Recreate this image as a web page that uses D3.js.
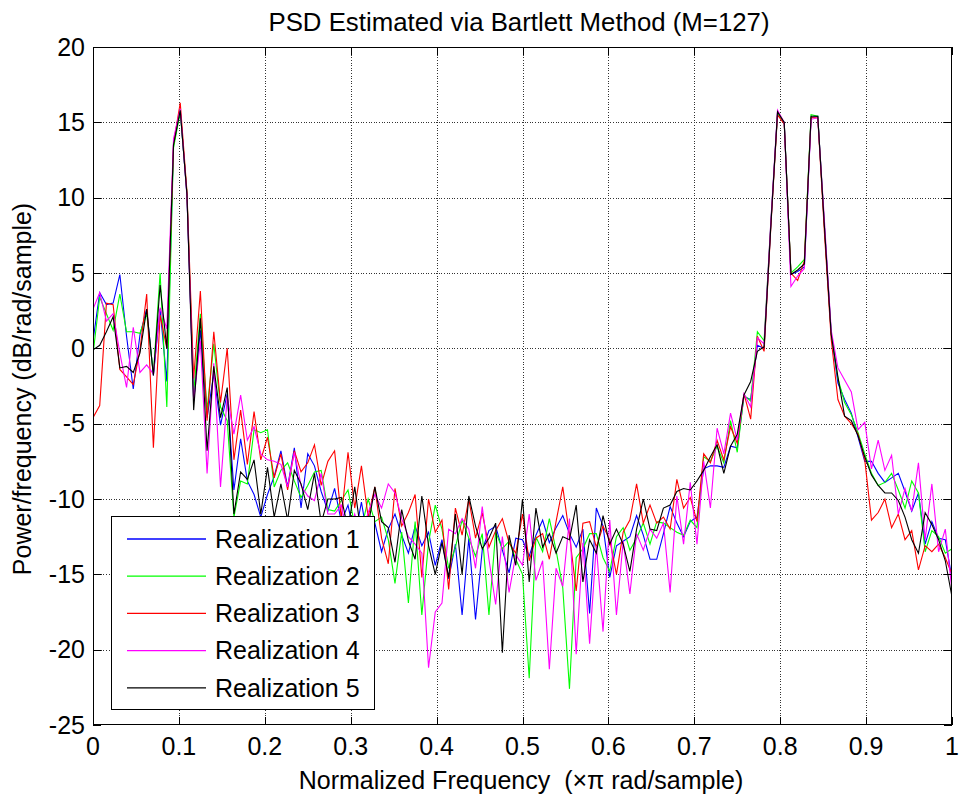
<!DOCTYPE html>
<html><head><meta charset="utf-8">
<script src="https://cdn.jsdelivr.net/npm/d3@7"></script>
<style>
body{margin:0;background:#fff;}
svg text{font-family:"Liberation Sans",Arial,Helvetica,sans-serif;fill:#000;}
</style>
</head><body>
<svg id="chart" width="962" height="803"></svg>
<script>
// ---------- data ----------
const titleText = "PSD Estimated via Bartlett Method (M=127)";
const xLabelText = "Normalized Frequency  (\u00D7\u03C0 rad/sample)";
const yLabelText = "Power/frequency (dB/rad/sample)";
const xTicks = [0,0.1,0.2,0.3,0.4,0.5,0.6,0.7,0.8,0.9,1];
const xTickLabels = ["0","0.1","0.2","0.3","0.4","0.5","0.6","0.7","0.8","0.9","1"];
const yTicks = [-25,-20,-15,-10,-5,0,5,10,15,20];
const yTickLabels = ["-25","-20","-15","-10","-5","0","5","10","15","20"];
const seriesNames = ["Realization 1","Realization 2","Realization 3","Realization 4","Realization 5"];
const seriesColors = ["#0000ff","#00ff00","#ff0000","#ff00ff","#000000"];
const nfftHalf = 128; // frequency grid k/128, k = 0..128

const r1 = [0.5,3.7,2.9,3.0,4.9,0.8,-2.7,0.9,2.6,-1.8,
2.6,-2.2,13.5,15.8,10.2,-3.5,1.2,-4.6,-1.7,-5.1,
-3.0,-9.4,-6.0,-8.8,-9.7,-11.2,-9.7,-8.5,-6.8,-9.2,
-6.6,-10.6,-7.0,-7.8,-9.5,-10.8,-9.3,-11.5,-10.4,-12.6,
-10.2,-12.9,-11.6,-13.5,-12.0,-11.0,-12.4,-13.6,-11.8,-13.1,
-12.2,-14.4,-12.7,-15.3,-13.0,-17.7,-12.6,-18.0,-13.4,-12.1,
-11.8,-13.4,-14.9,-12.6,-12.7,-13.8,-12.4,-11.4,-12.9,-11.9,
-11.1,-12.3,-13.2,-12.0,-17.6,-10.6,-11.8,-15.2,-13.1,-12.8,
-12.5,-11.1,-12.4,-14.0,-14.0,-12.3,-10.5,-11.6,-12.5,-11.5,
-11.2,-8.0,-7.8,-7.8,-7.9,-6.5,-6.6,-3.2,-3.4,0.2,
0.0,8.2,15.6,15.0,4.9,5.1,5.4,15.3,15.4,8.0,
1.0,-2.3,-3.4,-4.3,-5.9,-7.5,-7.5,-8.3,-8.9,-8.6,
-8.3,-9.5,-10.8,-9.6,-13.0,-11.5,-12.6,-12.7,-15.3];

const r2 = [-0.4,3.4,2.3,1.2,3.6,1.1,1.1,1.0,2.3,-1.7,
5.0,-3.9,13.3,15.7,10.3,-3.0,2.3,-4.1,0.3,-3.9,
-4.8,-11.2,-8.8,-9.0,-5.4,-5.6,-5.4,-9.2,-8.1,-7.6,
-8.8,-9.9,-9.1,-8.2,-8.1,-10.7,-10.8,-10.1,-9.4,-11.8,
-12.0,-10.0,-11.5,-11.2,-12.7,-15.6,-12.2,-16.9,-11.5,-17.7,
-12.9,-10.4,-12.0,-14.6,-13.2,-11.4,-12.6,-13.8,-12.3,-17.7,
-12.2,-13.3,-12.8,-14.0,-15.0,-21.9,-12.5,-13.5,-11.3,-13.4,
-15.9,-22.6,-13.9,-13.3,-12.3,-12.3,-13.9,-14.8,-12.5,-11.9,
-13.4,-12.6,-11.6,-13.0,-11.5,-11.6,-11.9,-12.2,-12.4,-11.4,
-11.9,-7.2,-7.5,-6.5,-7.6,-4.8,-6.9,-3.1,-3.5,1.1,
0.5,8.3,15.6,15.0,5.0,5.4,5.9,15.5,15.4,8.1,
1.0,-2.0,-3.6,-4.4,-5.6,-7.0,-8.3,-9.1,-8.9,-8.3,
-9.4,-10.6,-8.8,-9.6,-13.5,-12.1,-12.5,-13.6,-13.3];

const r3 = [-4.6,-3.8,3.0,2.9,-1.4,-1.9,-2.4,-0.1,3.6,-6.6,
2.2,0.0,13.6,16.3,10.4,-2.0,3.8,-4.8,1.1,-3.6,
0.0,-7.4,-4.1,-7.7,-4.2,-7.4,-5.9,-8.6,-7.0,-9.4,
-6.8,-8.2,-7.6,-6.4,-9.1,-7.5,-6.8,-11.3,-6.9,-10.6,
-7.8,-11.2,-9.2,-12.6,-14.3,-9.3,-11.8,-10.9,-9.7,-15.2,
-10.0,-12.2,-11.4,-16.0,-10.6,-12.4,-10.0,-12.6,-10.9,-13.2,
-12.1,-11.3,-12.9,-13.6,-11.0,-14.1,-12.6,-12.3,-14.0,-11.5,
-9.2,-12.4,-16.1,-11.6,-11.5,-13.2,-11.8,-12.7,-15.0,-12.2,
-11.4,-9.0,-11.6,-10.4,-11.6,-11.2,-12.0,-8.7,-10.6,-9.9,
-11.5,-7.0,-7.6,-6.1,-7.4,-5.2,-6.3,-3.0,-4.7,0.8,
-0.2,8.0,15.5,14.9,5.0,4.5,5.8,15.3,15.3,7.6,
0.6,-3.4,-4.5,-5.0,-5.7,-7.4,-11.4,-10.9,-10.0,-11.9,
-11.0,-12.7,-12.1,-14.7,-13.1,-13.5,-13.0,-13.9,-15.0];

const r4 = [2.6,3.7,1.8,2.3,-0.3,-2.6,1.4,-1.6,-1.1,-1.7,
2.7,1.3,13.9,15.9,10.1,-3.5,0.5,-8.3,-1.0,-9.2,
-3.2,-5.7,-3.1,-6.1,-5.2,-7.0,-7.4,-7.5,-7.7,-9.2,
-6.9,-9.1,-9.8,-10.1,-8.3,-11.0,-11.0,-10.4,-12.8,-11.0,
-12.5,-10.9,-9.7,-10.6,-9.0,-9.6,-11.3,-12.5,-13.0,-13.6,
-21.2,-17.5,-16.9,-12.0,-12.3,-11.3,-12.0,-14.6,-10.5,-14.0,
-17.0,-12.5,-16.2,-13.7,-14.4,-11.0,-15.4,-14.1,-21.3,-14.6,
-15.8,-11.3,-20.3,-12.9,-19.6,-13.1,-18.8,-11.4,-17.7,-12.8,
-16.3,-12.3,-13.4,-12.0,-12.6,-11.6,-16.2,-9.8,-13.0,-8.9,
-13.0,-7.5,-10.6,-5.3,-7.0,-4.3,-6.1,-3.0,-3.9,0.7,
0.3,8.4,15.8,15.0,4.1,4.8,5.3,15.2,15.3,8.4,
1.2,-1.3,-2.1,-2.9,-5.4,-4.9,-8.0,-6.1,-8.1,-7.1,
-11.0,-9.3,-10.8,-7.6,-12.7,-9.0,-13.5,-12.0,-16.1];

const r5 = [-0.1,0.2,1.1,2.1,-1.3,-1.2,-1.6,-0.3,2.6,-1.8,
4.2,0.0,13.5,15.8,10.2,-4.1,2.0,-6.8,-1.2,-4.6,
-2.6,-11.0,-8.2,-8.7,-7.4,-11.0,-7.9,-11.2,-9.0,-11.4,
-8.1,-9.0,-10.7,-8.3,-11.6,-10.0,-10.0,-9.9,-12.0,-9.2,
-12.5,-11.8,-9.2,-11.5,-11.9,-14.2,-10.7,-12.8,-14.0,-9.8,
-13.1,-15.0,-12.9,-15.2,-11.0,-15.0,-9.8,-11.8,-13.3,-12.6,
-11.6,-20.2,-12.4,-14.4,-10.0,-15.5,-10.6,-13.2,-12.3,-13.6,
-12.5,-12.7,-10.4,-15.5,-12.7,-13.6,-11.1,-13.0,-12.0,-13.0,
-14.8,-12.0,-10.0,-12.0,-12.1,-10.6,-10.4,-9.5,-9.3,-9.4,
-8.8,-8.1,-7.2,-6.4,-8.3,-6.5,-5.7,-3.1,-2.2,-0.2,
0.1,8.1,15.7,15.0,4.9,5.2,5.6,15.4,15.4,8.0,
0.9,-1.9,-4.5,-4.8,-5.8,-7.2,-8.4,-9.1,-9.6,-9.6,
-10.1,-11.2,-12.7,-13.6,-10.9,-11.7,-12.7,-14.1,-16.5];

const seriesValues = [r1, r2, r3, r4, r5];

// ---------- drawing ----------
const svg = d3.select("#chart");
const L = 93, R = 952, T = 47, B = 725;
const x = d3.scaleLinear().domain([0, 1]).range([L, R]);
const y = d3.scaleLinear().domain([-25, 20]).range([B, T]);
const px = v => Math.round(v) + 0.5;

svg.append("rect").attr("x",0).attr("y",0).attr("width",962).attr("height",803).attr("fill","#fff");
svg.append("rect").attr("x",L).attr("y",T).attr("width",R-L).attr("height",B-T).attr("fill","#fff");

// grid
const grid = svg.append("g").attr("stroke","#333").attr("stroke-width",1).attr("stroke-dasharray","1,1.6").attr("shape-rendering","crispEdges");
xTicks.slice(1,-1).forEach(t => {
  grid.append("line").attr("x1",px(x(t))).attr("x2",px(x(t))).attr("y1",T).attr("y2",B);
});
yTicks.slice(1,-1).forEach(t => {
  grid.append("line").attr("y1",px(y(t))).attr("y2",px(y(t))).attr("x1",L).attr("x2",R);
});

// series
svg.append("clipPath").attr("id","plotclip").append("rect")
  .attr("x",L).attr("y",T).attr("width",R-L).attr("height",B-T);
const lineGen = d3.line().x((d,i) => x(i / nfftHalf)).y(d => y(d));
const plot = svg.append("g").attr("clip-path","url(#plotclip)");
seriesValues.forEach((vals, si) => {
  plot.append("path").datum(vals).attr("d", lineGen)
    .attr("fill","none").attr("stroke", seriesColors[si]).attr("stroke-width",1.1)
    .attr("stroke-linejoin","miter");
});

// axes box and ticks
const axisG = svg.append("g").attr("stroke","#000").attr("stroke-width",1).attr("shape-rendering","crispEdges");
axisG.append("rect").attr("x",L+0.5).attr("y",T+0.5).attr("width",R-L-1).attr("height",B-T-1).attr("fill","none");
const tl = 8;
xTicks.forEach(t => {
  const xx = px(x(t));
  axisG.append("line").attr("x1",xx).attr("x2",xx).attr("y1",B).attr("y2",B-tl);
  axisG.append("line").attr("x1",xx).attr("x2",xx).attr("y1",T).attr("y2",T+tl);
});
yTicks.forEach(t => {
  const yy = px(y(t));
  axisG.append("line").attr("y1",yy).attr("y2",yy).attr("x1",L).attr("x2",L+tl);
  axisG.append("line").attr("y1",yy).attr("y2",yy).attr("x1",R).attr("x2",R-tl);
});

// tick labels
const fs = 25;
xTicks.forEach((t,i) => {
  svg.append("text").attr("x",x(t)).attr("y",755).attr("text-anchor","middle")
    .attr("font-size",fs).text(xTickLabels[i]);
});
yTicks.forEach((t,i) => {
  svg.append("text").attr("x",85).attr("y",y(t)).attr("dy","0.35em").attr("text-anchor","end")
    .attr("font-size",fs).text(yTickLabels[i]);
});

// title & labels
svg.append("text").attr("x",519).attr("y",31).attr("text-anchor","middle").attr("font-size",25.8).text(titleText);
svg.append("text").attr("x",521).attr("y",789).attr("text-anchor","middle").attr("font-size",fs)
  .attr("xml:space","preserve").style("white-space","pre").text(xLabelText);
svg.append("text").attr("transform","translate(31,389) rotate(-90)").attr("text-anchor","middle")
  .attr("font-size",fs).text(yLabelText);

// legend
const lg = svg.append("g");
lg.append("rect").attr("x",111.5).attr("y",516.5).attr("width",263).attr("height",193)
  .attr("fill","#fff").attr("stroke","#000").attr("stroke-width",1);
seriesNames.forEach((name, i) => {
  const yy = 539 + i * 37.2;
  lg.append("line").attr("x1",127).attr("x2",206).attr("y1",yy).attr("y2",yy)
    .attr("stroke",seriesColors[i]).attr("stroke-width",1.3);
  lg.append("text").attr("x",215).attr("y",yy).attr("dy","0.35em").attr("font-size",fs).text(name);
});
</script>
</body></html>
